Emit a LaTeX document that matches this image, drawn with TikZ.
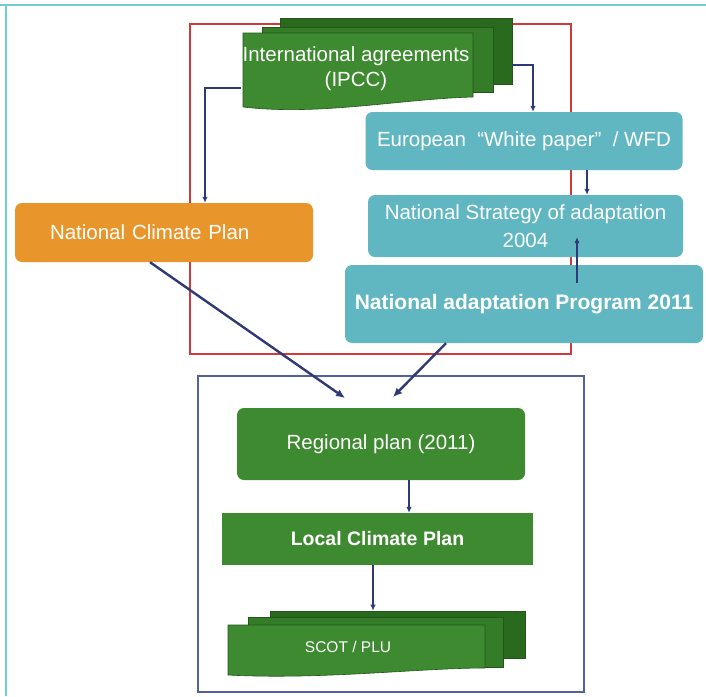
\documentclass[tikz,border=0pt]{standalone}
\usepackage{fontspec}
\setmainfont{Liberation Sans}
\usetikzlibrary{arrows.meta,calc}
\definecolor{gfront}{HTML}{3E8A30}
\definecolor{gmid}{HTML}{347C27}
\definecolor{gback}{HTML}{2A6A1E}
\definecolor{gline}{HTML}{24561A}
\definecolor{tealbox}{HTML}{60B7C2}
\definecolor{orng}{HTML}{E8952B}
\definecolor{navy}{HTML}{2E3A78}
\definecolor{frred}{HTML}{D03A3A}
\definecolor{frblue}{HTML}{5262A0}
\definecolor{edgeteal}{HTML}{6FCFCF}
\begin{document}
\begin{tikzpicture}[x=1pt,y=-1pt,
  boxbase/.style={rectangle, inner sep=0pt, text=white, align=center,
    font=\fontsize{20.5}{25}\selectfont},
  rbox/.style={boxbase, rounded corners=7pt},
  layer/.style={rectangle, inner sep=0pt, draw=gline, line width=0.6pt},
  doctext/.style={boxbase, draw=none},
  thin/.style={draw=navy, line width=1.6pt, -{Latex[length=6pt,width=5.5pt]}},
  thick/.style={draw=navy, line width=2.4pt, -{Latex[length=9pt,width=8pt]}}]
\useasboundingbox (0,0) rectangle (706,696);
\fill[white] (0,0) rectangle (706,696);
% page edges
\draw[edgeteal, line width=2pt] (0,5) -- (706,5);
\draw[edgeteal, line width=2pt] (6,5) -- (6,696);
% frames
\draw[frred, line width=2.4pt] (190,24) rectangle (571,354);
\draw[frblue, line width=2pt] (198,376) rectangle (584,692);

% IPCC document stack
\node[layer, fill=gback, minimum width=232pt, minimum height=66pt] (ipcc3) at (396,51) {};
\node[layer, fill=gmid, minimum width=231pt, minimum height=65pt] (ipcc2) at (377.5,59.5) {};
\filldraw[fill=gfront, draw=gline, line width=0.6pt]
  (243,33) -- (473,33) -- (473,97) .. controls (400,99) and (320,116) .. (243,107) -- cycle;
\node[doctext, minimum width=230pt, minimum height=72pt] (ipcc) at (356,69)
  {International agreements\\(IPCC)};

% boxes
\node[rbox, fill=orng, minimum width=298pt, minimum height=59pt,
  text width=228pt, inner xsep=35pt, align=left] (ncp) at (164,232.5) {National Climate Plan};
\node[rbox, fill=tealbox, minimum width=317pt, minimum height=58pt] (eur) at (524,141)
  {European \ “White paper” \ / WFD};
\node[rbox, fill=tealbox, minimum width=315pt, minimum height=62pt,
  font=\fontsize{20.5}{28}\selectfont] (nsa) at (525.5,226)
  {National Strategy of adaptation\\2004};
\node[rbox, fill=tealbox, minimum width=358pt, minimum height=78pt,
  font=\bfseries\fontsize{21}{25}\selectfont] (nap) at (524,304)
  {National adaptation Program 2011};
\node[rbox, fill=gfront, minimum width=288pt, minimum height=72pt] (reg) at (381,444)
  {Regional plan (2011)};
\node[boxbase, fill=gfront, minimum width=311pt, minimum height=52pt,
  font=\bfseries\fontsize{19.5}{24}\selectfont] (loc) at (377.5,539)
  {Local Climate Plan};

% SCOT / PLU document stack
\node[layer, fill=gback, minimum width=255pt, minimum height=47pt] (scot3) at (397.5,634.5) {};
\node[layer, fill=gmid, minimum width=255pt, minimum height=50pt] (scot2) at (375.5,642) {};
\filldraw[fill=gfront, draw=gline, line width=0.6pt]
  (228,625) -- (485,625) -- (485,668) .. controls (420,668) and (320,680) .. (228,675) -- cycle;
\node[doctext, minimum width=257pt, minimum height=46pt,
  font=\fontsize{15.5}{19}\selectfont] (scot) at (348,647) {SCOT / PLU};

% free ends
\coordinate (in1) at (345,398);
\coordinate (in2) at (393,397);

% connectors
\draw[thin] (ipcc.west |- 0,88) -| (ncp.north -| 205,0);
\draw[thin] (ipcc3.east |- 0,65) -| (eur.north -| 533,0);
\draw[thin] (eur.south -| 587,0) -- (nsa.north -| 587,0);
\draw[thin] ([yshift=-18pt]nap.north -| 577,0) -- ([yshift=20pt]nsa.south -| 577,0);
\draw[thick] (ncp.south -| 150,0) -- (in1);
\draw[thick] (nap.south -| 446,0) -- (in2);
\draw[thin] (reg.south -| 409,0) -- (loc.north -| 409,0);
\draw[thin] (loc.south -| 373,0) -- (scot3.north -| 373,0);
\end{tikzpicture}
\end{document}
